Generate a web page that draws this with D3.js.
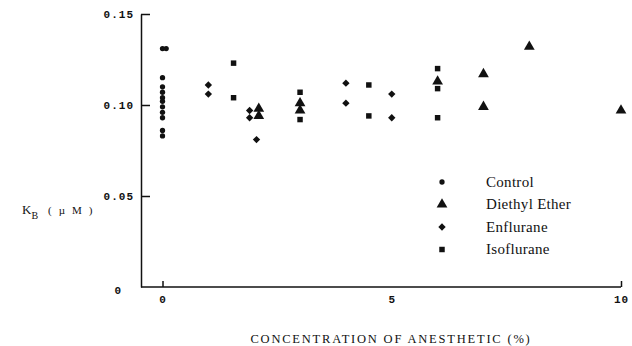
<!DOCTYPE html>
<html>
<head>
<meta charset="utf-8">
<script src="https://cdn.jsdelivr.net/npm/d3@7"></script>
<style>
  html, body { margin: 0; padding: 0; background: #fff; }
  svg { display: block; }
  .tick text { font-family: 'Liberation Mono', monospace; font-weight: bold; font-size: 11px; fill: #111; letter-spacing: 1px; }
  .legend text { font-family: 'Liberation Serif', serif; font-size: 15px; fill: #111; letter-spacing: 0.3px; }
  .label { font-family: 'Liberation Serif', serif; fill: #111; }
</style>
</head>
<body>
<div id="chart"></div>
<script>
// values: [concentration %, K_B µM]
const control = [
  [0, 0.131], [0.08, 0.131], [0, 0.115], [0, 0.110], [0, 0.107], [0, 0.104],
  [0, 0.102], [0, 0.099], [0, 0.096], [0, 0.093], [0, 0.086], [0, 0.083]
];
const diethylEther = [
  [2.1, 0.098], [2.1, 0.094], [3, 0.101], [3, 0.097], [6, 0.113],
  [7, 0.117], [7, 0.099], [8, 0.132], [10, 0.097]
];
const enflurane = [
  [1, 0.111], [1, 0.106], [1.9, 0.097], [1.9, 0.093], [2.05, 0.081],
  [4, 0.112], [4, 0.101], [5, 0.106], [5, 0.093]
];
const isoflurane = [
  [1.55, 0.123], [1.55, 0.104], [3, 0.107], [3, 0.092], [4.5, 0.111],
  [4.5, 0.094], [6, 0.120], [6, 0.109], [6, 0.093]
];
const seriesNames = ['Control', 'Diethyl Ether', 'Enflurane', 'Isoflurane'];
const xTicks = [0, 5, 10];
const yTicks = [0, 0.05, 0.10, 0.15];

const width = 632, height = 346;
const axisX = 141;

const svg = d3.select('#chart').append('svg')
  .attr('width', width)
  .attr('height', height);

const x = d3.scaleLinear().domain([0, 10]).range([162.5, 621]);
const y = d3.scaleLinear().domain([0, 0.15]).range([287, 14]);

// y axis, ticks pointing inward
const yAxis = svg.append('g')
  .attr('transform', `translate(${axisX},0)`)
  .call(d3.axisLeft(y)
    .tickValues(yTicks)
    .tickSizeInner(-9)
    .tickSizeOuter(0)
    .tickPadding(7)
    .tickFormat(d => d === 0 ? '0' : d3.format('.2f')(d)));
yAxis.select('.domain').attr('stroke', '#111').attr('stroke-width', 1.5);
yAxis.selectAll('.tick line').attr('stroke', '#111').attr('stroke-width', 1.5)
  .filter(d => d === 0).remove();
yAxis.selectAll('.tick text').attr('dy', '0.32em');
yAxis.selectAll('.tick').filter(d => d === 0).select('text')
  .attr('dy', '0.6em').attr('x', -19);

// x axis: baseline runs from the y axis, ticks point up at 0 and 10
svg.append('line')
  .attr('x1', axisX).attr('x2', x(10))
  .attr('y1', y(0)).attr('y2', y(0))
  .attr('stroke', '#111').attr('stroke-width', 1.5);
const xAxis = svg.append('g')
  .attr('transform', `translate(0,${y(0)})`)
  .call(d3.axisBottom(x)
    .tickValues(xTicks)
    .tickSizeInner(-6)
    .tickSizeOuter(0)
    .tickPadding(8)
    .tickFormat(d3.format('d')));
xAxis.select('.domain').remove();
xAxis.selectAll('.tick line').attr('stroke', '#111').attr('stroke-width', 1.5)
  .filter(d => d === 5).remove();

// markers (diamond drawn as a square turned 45deg so it is not stretched)
const shapes = {
  'Control': { sym: d3.symbol().type(d3.symbolCircle).size(22), rot: 0 },
  'Diethyl Ether': { sym: d3.symbol().type(d3.symbolTriangle).size(50), rot: 0 },
  'Enflurane': { sym: d3.symbol().type(d3.symbolSquare).size(27), rot: 45 },
  'Isoflurane': { sym: d3.symbol().type(d3.symbolSquare).size(30), rot: 0 }
};
const allSeries = [control, diethylEther, enflurane, isoflurane];

allSeries.forEach((data, i) => {
  const s = shapes[seriesNames[i]];
  svg.append('g').selectAll('path')
    .data(data)
    .join('path')
    .attr('d', s.sym)
    .attr('transform', d => `translate(${x(d[0])},${y(d[1])}) rotate(${s.rot})`)
    .attr('fill', '#111');
});

// legend
const legend = svg.append('g').attr('class', 'legend')
  .selectAll('g')
  .data(seriesNames)
  .join('g')
  .attr('transform', (d, i) => `translate(442,${182 + i * 22.5})`);
legend.append('path')
  .attr('d', d => shapes[d].sym())
  .attr('transform', d => `rotate(${shapes[d].rot})`)
  .attr('fill', '#111');
legend.append('text')
  .attr('x', 44)
  .attr('dy', '0.3em')
  .text(d => d);

// axis titles
svg.append('text').attr('class', 'label')
  .attr('x', 391).attr('y', 343)
  .attr('text-anchor', 'middle')
  .style('font-size', '12.5px')
  .style('letter-spacing', '1.8px')
  .text('CONCENTRATION OF ANESTHETIC (%)');

const yl = svg.append('text').attr('class', 'label')
  .attr('x', 22).attr('y', 214)
  .style('font-size', '13px');
yl.append('tspan').text('K');
yl.append('tspan').attr('dy', 5).style('font-size', '10px').text('B');
yl.append('tspan').attr('dy', -5).attr('dx', 10)
  .style('font-size', '11px').style('letter-spacing', '7px').text('(\u00b5M)');
</script>
</body>
</html>
